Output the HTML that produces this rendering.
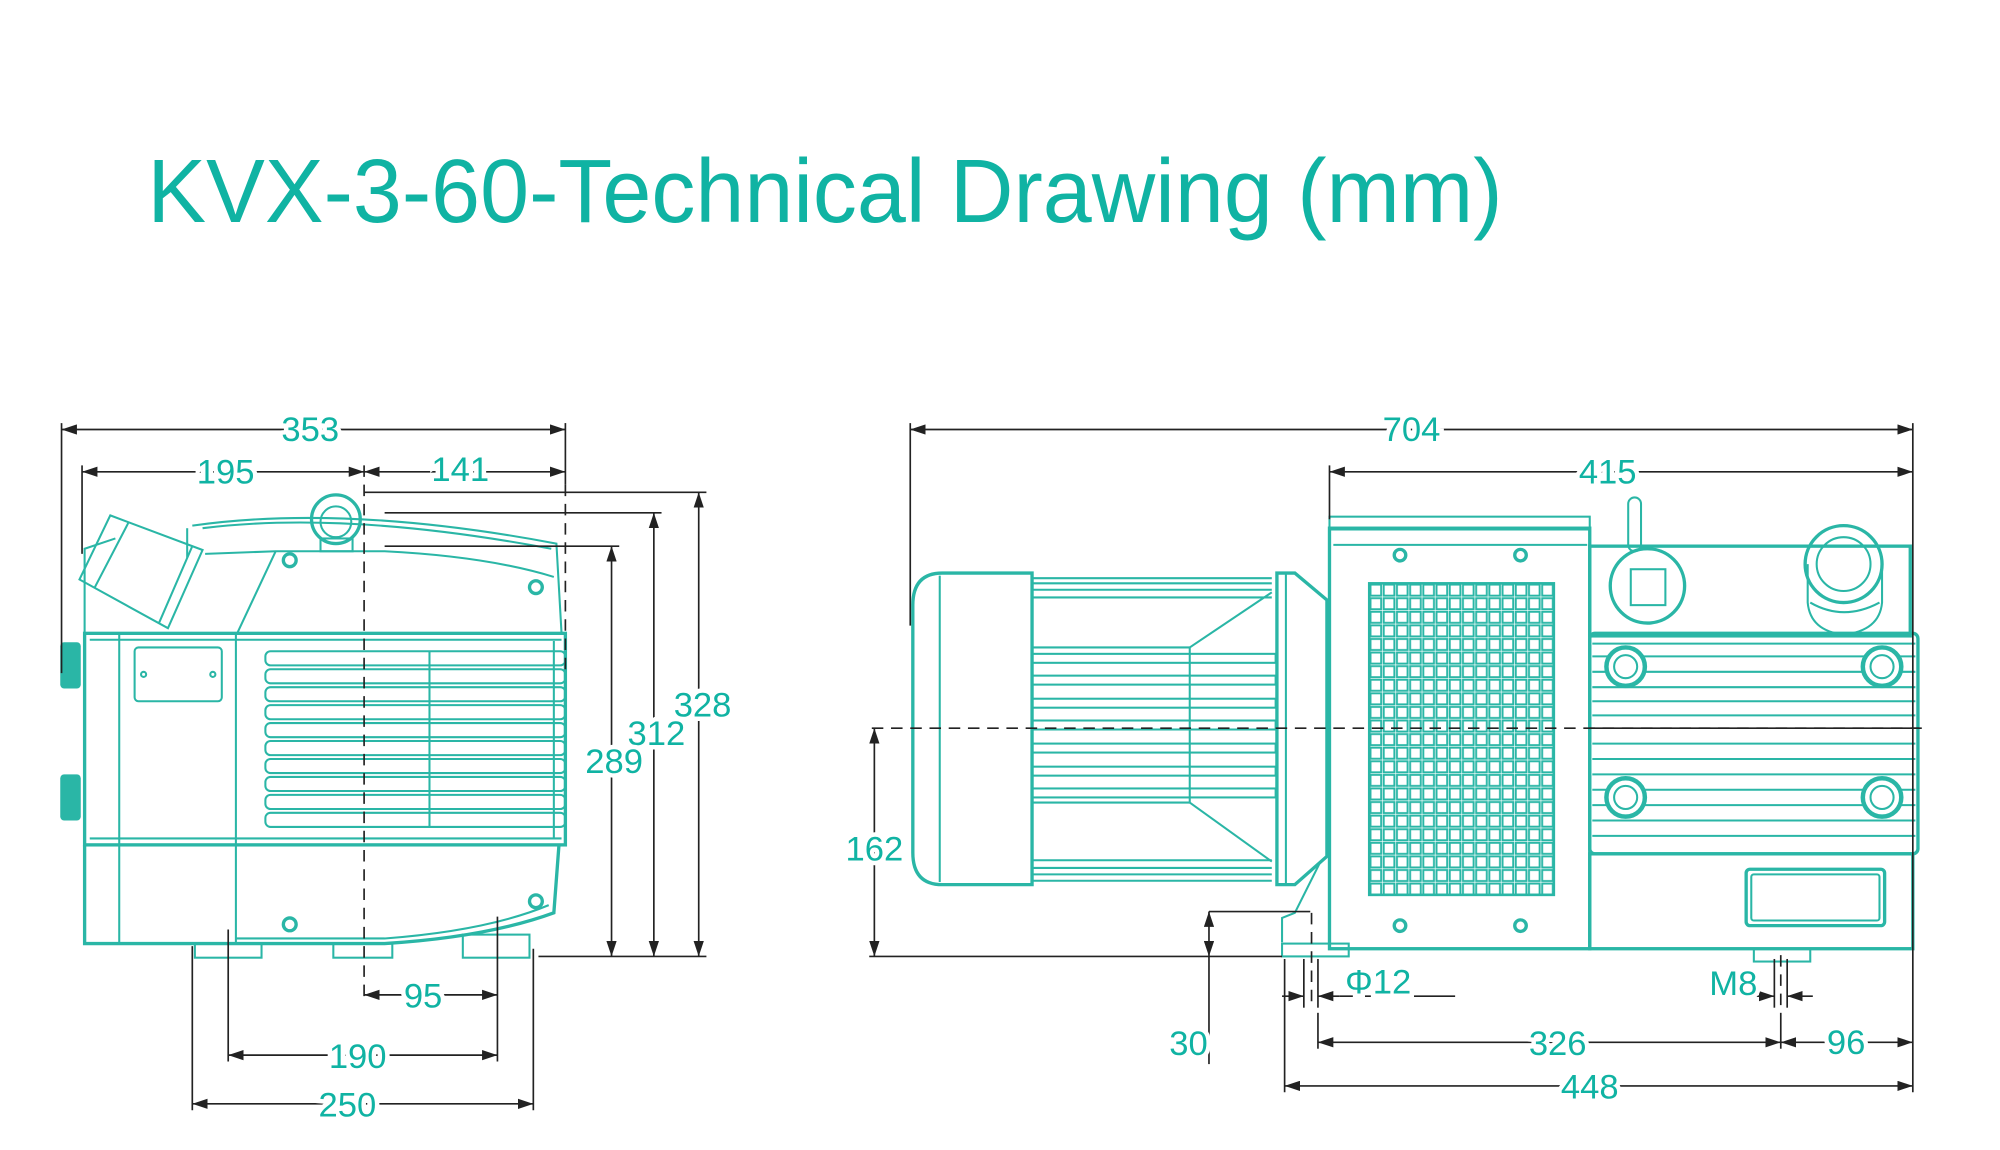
<!DOCTYPE html>
<html><head><meta charset="utf-8">
<style>
html,body{margin:0;padding:0;background:#fff;}
svg{display:block;}
.t{font-family:"Liberation Sans",sans-serif;fill:#10b3a3;}
.d{font-family:"Liberation Sans",sans-serif;fill:#10b3a3;font-size:27px;text-anchor:middle;paint-order:stroke;stroke:#fff;stroke-width:7px;}
.k{stroke:#222;stroke-width:1.3;fill:none;}
.a{stroke:#222;stroke-width:1.3;fill:none;marker-start:url(#ar);marker-end:url(#ar);}
.a1{stroke:#222;stroke-width:1.3;fill:none;marker-end:url(#ar);}
.c{stroke:#222;stroke-width:1.3;fill:none;stroke-dasharray:9 6;}
.g{stroke:#2ab6a6;stroke-width:1.6;fill:none;}
.g2{stroke:#2ab6a6;stroke-width:2.6;fill:none;}
.gf{fill:#2ab6a6;stroke:none;}
</style></head><body>
<svg width="2000" height="1150" viewBox="0 0 1560 897" preserveAspectRatio="none" xmlns="http://www.w3.org/2000/svg">
<defs>
<marker id="ar" viewBox="0 0 12 8" refX="12" refY="4" markerWidth="12" markerHeight="8" markerUnits="userSpaceOnUse" orient="auto-start-reverse">
<path d="M0,0 L12,4 L0,8 z" fill="#222"/></marker>
<pattern id="grid" x="1068" y="455" width="10.3" height="10.6" patternUnits="userSpaceOnUse">
<rect x="1" y="1" width="8.3" height="8.6" fill="none" stroke="#2ab6a6" stroke-width="1.5"/></pattern>
</defs>

<text class="t" x="115" y="173" font-size="70" textLength="1057" lengthAdjust="spacingAndGlyphs">KVX-3-60-Technical Drawing (mm)</text>

<!-- ============ LEFT VIEW ============ -->
<g>
<!-- connector box -->
<path class="g" d="M86,402 L158,429 L131,490 L62,452 Z"/>
<path class="g" d="M100,408 L74,458 M150,426 L124,486"/>
<!-- upper housing -->
<path class="g" d="M66,494 L66,428 L90,420"/>
<path class="g" d="M150,410 Q270,393 434,424 L438,494"/>
<path class="g" d="M158,412 Q270,398 430,428"/>
<path class="g" d="M160,432 L215,430 L300,430 Q380,434 432,450"/>
<path class="g" d="M215,430 L185,494"/>
<path class="g" d="M146,412 L146,435"/>
<!-- eyelet -->
<circle class="g2" cx="262" cy="405" r="19"/>
<circle class="g" cx="262" cy="407" r="12"/>
<rect class="g" x="250" y="420" width="25" height="10"/>
<!-- main box -->
<rect class="g2" x="66" y="494" width="375" height="165"/>
<line class="g" x1="93" y1="494" x2="93" y2="736"/>
<line class="g" x1="184" y1="494" x2="184" y2="736"/>
<line class="g" x1="70" y1="499" x2="438" y2="499"/>
<line class="g" x1="70" y1="654" x2="438" y2="654"/>
<rect class="g" x="105" y="505" width="68" height="42" rx="3"/>
<circle class="g" cx="112" cy="526" r="2"/><circle class="g" cx="166" cy="526" r="2"/>
<!-- fins -->
<g class="g">
<rect x="207" y="508" width="234" height="11" rx="4"/>
<rect x="207" y="522" width="234" height="11" rx="4"/>
<rect x="207" y="536" width="234" height="11" rx="4"/>
<rect x="207" y="550" width="234" height="11" rx="4"/>
<rect x="207" y="564" width="234" height="11" rx="4"/>
<rect x="207" y="578" width="234" height="11" rx="4"/>
<rect x="207" y="592" width="234" height="11" rx="4"/>
<rect x="207" y="606" width="234" height="11" rx="4"/>
<rect x="207" y="620" width="234" height="11" rx="4"/>
<rect x="207" y="634" width="234" height="11" rx="4"/>
<line x1="335" y1="508" x2="335" y2="645"/>
<line x1="432" y1="500" x2="432" y2="654"/>
</g>
<!-- knobs -->
<rect class="gf" x="47" y="501" width="16" height="36" rx="3"/>
<rect class="gf" x="47" y="604" width="16" height="36" rx="3"/>
<!-- lower section -->
<path class="g2" d="M66,659 L66,736 L300,736 Q380,731 432,712 L436,659"/>
<path class="g" d="M184,732 L300,732 Q380,726 428,706"/>
<!-- feet -->
<rect class="g" x="152" y="736" width="52" height="11"/>
<rect class="g" x="260" y="736" width="46" height="11"/>
<rect class="g" x="361" y="729" width="52" height="18"/>
<!-- screws -->
<circle class="g2" cx="226" cy="437" r="5"/>
<circle class="g2" cx="418" cy="458" r="5"/>
<circle class="g2" cx="418" cy="703" r="5"/>
<circle class="g2" cx="226" cy="721" r="5"/>
</g>

<!-- left dims -->
<line class="a" x1="48" y1="335" x2="441" y2="335"/>
<line class="k" x1="48" y1="330" x2="48" y2="525"/>
<line class="k" x1="441" y1="330" x2="441" y2="378"/>
<line class="c" x1="441" y1="378" x2="441" y2="522"/>
<text class="d" x="242" y="344">353</text>
<line class="a" x1="64" y1="368" x2="284" y2="368"/>
<line class="a" x1="284" y1="368" x2="441" y2="368"/>
<line class="k" x1="64" y1="363" x2="64" y2="432"/>
<text class="d" x="176" y="377">195</text>
<text class="d" x="359" y="375">141</text>
<line class="c" x1="284" y1="363" x2="284" y2="782"/>

<line class="k" x1="284" y1="384" x2="551" y2="384"/>
<line class="k" x1="300" y1="400" x2="516" y2="400"/>
<line class="k" x1="300" y1="426" x2="483" y2="426"/>
<line class="k" x1="420" y1="746" x2="551" y2="746"/>
<line class="a" x1="545" y1="384" x2="545" y2="746"/>
<line class="a" x1="510" y1="400" x2="510" y2="746"/>
<line class="a" x1="477" y1="426" x2="477" y2="746"/>
<text class="d" x="548" y="559">328</text>
<text class="d" x="512" y="581">312</text>
<text class="d" x="479" y="603">289</text>

<line class="k" x1="150" y1="738" x2="150" y2="866"/>
<line class="k" x1="178" y1="725" x2="178" y2="828"/>
<line class="k" x1="388" y1="715" x2="388" y2="828"/>
<line class="k" x1="416" y1="740" x2="416" y2="866"/>
<line class="a" x1="284" y1="776" x2="388" y2="776"/>
<line class="a" x1="178" y1="823" x2="388" y2="823"/>
<line class="a" x1="150" y1="861" x2="416" y2="861"/>
<text class="d" x="330" y="786">95</text>
<text class="d" x="279" y="833">190</text>
<text class="d" x="271" y="871">250</text>

<!-- ============ RIGHT VIEW ============ -->
<g>
<!-- fan cover -->
<path class="g2" d="M735,447 L805,447 L805,690 L735,690 Q712,690 712,665 L712,472 Q712,447 735,447 Z"/>
<line class="g" x1="733" y1="449" x2="733" y2="688"/>
<!-- motor body -->
<g class="g">
<line x1="805" y1="451" x2="992" y2="451"/>
<line x1="805" y1="455" x2="992" y2="455"/>
<line x1="805" y1="460" x2="992" y2="460"/>
<line x1="805" y1="466" x2="992" y2="466"/>
<line x1="805" y1="671" x2="992" y2="671"/>
<line x1="805" y1="677" x2="992" y2="677"/>
<line x1="805" y1="682" x2="992" y2="682"/>
<line x1="805" y1="687" x2="992" y2="687"/>
<line x1="805" y1="505" x2="928" y2="505"/>
<line x1="805" y1="626" x2="928" y2="626"/>
<rect x="805" y="510" width="190" height="7"/>
<rect x="805" y="527" width="190" height="7"/>
<rect x="805" y="545" width="190" height="7"/>
<rect x="805" y="562" width="190" height="7"/>
<rect x="805" y="580" width="190" height="7"/>
<rect x="805" y="598" width="190" height="7"/>
<rect x="805" y="615" width="190" height="7"/>
<line x1="928" y1="505" x2="928" y2="626"/>
<line x1="928" y1="505" x2="992" y2="462"/>
<line x1="928" y1="626" x2="992" y2="672"/>
</g>
<!-- flange -->
<path class="g2" d="M996,447 L1010,447 L1035,468 L1035,668 L1010,690 L996,690 Z"/>
<line class="g" x1="1003" y1="448" x2="1003" y2="689"/>
<path class="g" d="M1030,672 L1010,712 L1000,716 L1000,735"/>
<rect class="g" x="1000" y="736" width="52" height="10"/>
<!-- pump head box -->
<rect class="g2" x="1037" y="412" width="203" height="328"/>
<rect class="g" x="1037" y="403" width="203" height="10"/>
<line class="g" x1="1040" y1="425" x2="1238" y2="425"/>
<rect x="1068" y="455" width="144" height="243" fill="url(#grid)" stroke="#2ab6a6" stroke-width="2"/>
<circle class="g2" cx="1092" cy="433" r="4.5"/>
<circle class="g2" cx="1186" cy="433" r="4.5"/>
<circle class="g2" cx="1092" cy="722" r="4.5"/>
<circle class="g2" cx="1186" cy="722" r="4.5"/>
<!-- right pump -->
<rect class="g2" x="1240" y="426" width="250" height="70"/>
<rect class="g2" x="1240" y="494" width="256" height="172" rx="4"/>
<rect class="g2" x="1240" y="666" width="252" height="74"/>
<g class="g">
<line x1="1242" y1="502" x2="1494" y2="502"/>
<line x1="1242" y1="512" x2="1494" y2="512"/>
<line x1="1242" y1="524" x2="1494" y2="524"/>
<line x1="1242" y1="536" x2="1494" y2="536"/>
<line x1="1242" y1="547" x2="1494" y2="547"/>
<line x1="1242" y1="558" x2="1494" y2="558"/>
<line x1="1242" y1="580" x2="1494" y2="580"/>
<line x1="1242" y1="592" x2="1494" y2="592"/>
<line x1="1242" y1="604" x2="1494" y2="604"/>
<line x1="1242" y1="616" x2="1494" y2="616"/>
<line x1="1242" y1="628" x2="1494" y2="628"/>
<line x1="1242" y1="640" x2="1494" y2="640"/>
<line x1="1242" y1="652" x2="1494" y2="652"/>
</g>
<g>
<circle cx="1268" cy="520" r="15" fill="#fff" stroke="#2ab6a6" stroke-width="3.5"/>
<circle cx="1468" cy="520" r="15" fill="#fff" stroke="#2ab6a6" stroke-width="3.5"/>
<circle cx="1268" cy="622" r="15" fill="#fff" stroke="#2ab6a6" stroke-width="3.5"/>
<circle cx="1468" cy="622" r="15" fill="#fff" stroke="#2ab6a6" stroke-width="3.5"/>
<circle class="g" cx="1268" cy="520" r="9"/><circle class="g" cx="1468" cy="520" r="9"/>
<circle class="g" cx="1268" cy="622" r="9"/><circle class="g" cx="1468" cy="622" r="9"/>
</g>
<rect class="g2" x="1362" y="678" width="108" height="44" rx="3"/>
<rect class="g" x="1366" y="682" width="100" height="36" rx="2"/>
<rect class="g" x="1368" y="740" width="44" height="10"/>
<!-- handle -->
<rect class="g" x="1270" y="388" width="10" height="42" rx="5"/>
<!-- port -->
<circle class="g2" cx="1285" cy="457" r="29"/>
<rect class="g" x="1272" y="444" width="27" height="28"/>
<!-- inlet -->
<path class="g" d="M1410,440 L1410,470 Q1412,492 1438,495 Q1466,492 1468,470 L1468,440"/>
<path class="g" d="M1412,470 Q1438,485 1466,470"/>
<circle class="g2" cx="1438" cy="440" r="30" fill="#fff"/>
<circle class="g" cx="1438" cy="440" r="21"/>
</g>

<!-- right dims -->
<line class="a" x1="710" y1="335" x2="1492" y2="335"/>
<line class="k" x1="710" y1="330" x2="710" y2="488"/>
<line class="k" x1="1492" y1="330" x2="1492" y2="852"/>
<text class="d" x="1101" y="344">704</text>
<line class="a" x1="1037" y1="368" x2="1492" y2="368"/>
<line class="k" x1="1037" y1="363" x2="1037" y2="405"/>
<text class="d" x="1254" y="377">415</text>
<line class="c" x1="680" y1="568" x2="1500" y2="568"/>
<line class="k" x1="1240" y1="568" x2="1497" y2="568"/>
<line class="a" x1="682" y1="568" x2="682" y2="746"/>
<line class="k" x1="678" y1="746" x2="1000" y2="746"/>
<text class="d" x="682" y="671">162</text>
<!-- 30 -->
<line class="k" x1="943" y1="711" x2="1022" y2="711"/>
<line class="k" x1="943" y1="746" x2="943" y2="830"/>
<line class="a" x1="943" y1="711" x2="943" y2="746"/>
<text class="d" x="927" y="823">30</text>
<!-- Φ12 -->
<line class="k" x1="1017" y1="748" x2="1017" y2="786"/>
<line class="k" x1="1028" y1="748" x2="1028" y2="786"/>
<line class="c" x1="1023" y1="712" x2="1023" y2="786" stroke-dasharray="5 4"/>
<line class="a1" x1="1000" y1="777" x2="1017" y2="777"/>
<line class="a1" x1="1045" y1="777" x2="1028" y2="777"/>
<line class="k" x1="1045" y1="777" x2="1135" y2="777"/>
<text class="d" x="1075" y="775">Φ12</text>
<!-- M8 -->
<line class="k" x1="1384" y1="748" x2="1384" y2="786"/>
<line class="k" x1="1394" y1="748" x2="1394" y2="786"/>
<line class="c" x1="1389" y1="745" x2="1389" y2="786" stroke-dasharray="5 4"/>
<line class="a1" x1="1335" y1="777" x2="1384" y2="777"/>
<line class="a1" x1="1414" y1="777" x2="1394" y2="777"/>
<text class="d" x="1352" y="776">M8</text>
<!-- 326 / 96 / 448 -->
<line class="k" x1="1028" y1="790" x2="1028" y2="818"/>
<line class="k" x1="1389" y1="790" x2="1389" y2="818"/>
<line class="a" x1="1028" y1="813" x2="1389" y2="813"/>
<line class="a" x1="1389" y1="813" x2="1492" y2="813"/>
<text class="d" x="1215" y="823">326</text>
<text class="d" x="1440" y="822">96</text>
<line class="k" x1="1002" y1="748" x2="1002" y2="852"/>
<line class="a" x1="1002" y1="847" x2="1492" y2="847"/>
<text class="d" x="1240" y="857">448</text>
</svg>
</body></html>
